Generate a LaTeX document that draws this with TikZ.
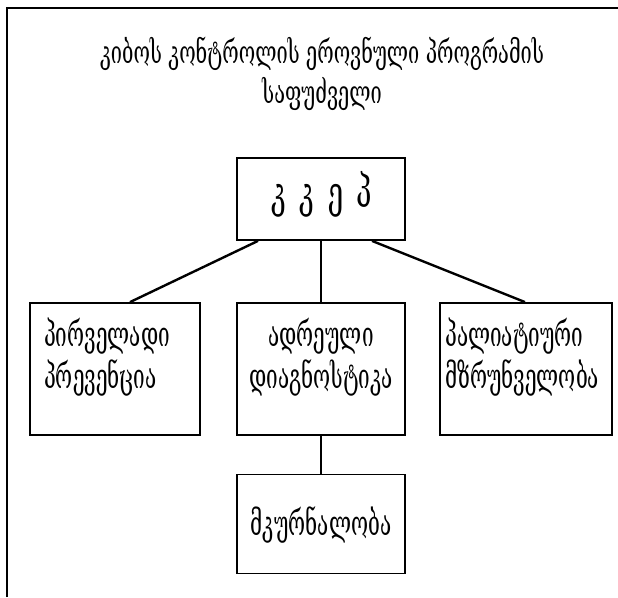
\documentclass[tikz,border=0pt]{standalone}
\usepackage{fontspec}
\newfontfamily\geo{DejaVu Serif}
\newcommand{\tall}[1]{\scalebox{0.95}[1.5]{#1}}
\newcommand{\btall}[1]{\scalebox{0.9}[1.5]{#1}}
\begin{document}
\begin{tikzpicture}[x=1pt,y=-1pt,
  box/.style={draw, line width=1.8pt, inner sep=0pt},
  lbl/.style={font=\geo\fontsize{21}{40}\selectfont, inner sep=0pt},
  blbl/.style={font=\geo\fontsize{23}{42}\selectfont, inner sep=0pt},
  conn/.style={line width=1.4pt},
  thick conn/.style={line width=2.4pt}]
\useasboundingbox (0,0) rectangle (618,597);
\draw[line width=2pt] (7,597) -- (7,8) -- (618,8);
% title
\node[lbl, align=center] (title) at (322,74) {\tall{კიბოს კონტროლის ეროვნული პროგრამის}\\\tall{საფუძველი}};
% boxes
\node[box, minimum width=168pt, minimum height=82pt] (top) at (321,199) {};
\node[box, minimum width=170pt, minimum height=132pt] (b1) at (115,369) {};
\node[box, minimum width=168pt, minimum height=132pt] (b2) at (321,369) {};
\node[box, minimum width=172pt, minimum height=132pt] (b3) at (526,369) {};
\node[box, minimum width=168pt, minimum height=99pt] (b4) at (321,524) {};
% labels
\node[lbl, font=\geo\fontsize{30}{40}\selectfont] (toplbl) at (322,194) {\scalebox{0.9}[1.45]{კ\hspace{15pt}კ\hspace{15pt}ე\hspace{15pt}პ}};
\node[blbl, align=left, anchor=west] (l1) at (44,357) {\btall{პირველადი}\\\btall{პრევენცია}};
\node[blbl, align=center] (l2) at (321,357) {\btall{ადრეული}\\\btall{დიაგნოსტიკა}};
\node[blbl, align=left, anchor=west] (l3) at (445,357) {\btall{პალიატიური}\\\btall{მზრუნველობა}};
\node[blbl] (l4) at (321,525) {\btall{მკურნალობა}};
% connectors
\draw[thick conn] ([xshift=-63pt]top.south) -- ([xshift=15pt]b1.north);
\draw[thick conn] ([xshift=51pt]top.south) -- ([xshift=-1pt]b3.north);
\draw[conn] (top.south) -- (b2.north);
\draw[conn] (b2.south) -- (b4.north);
\end{tikzpicture}
\end{document}
